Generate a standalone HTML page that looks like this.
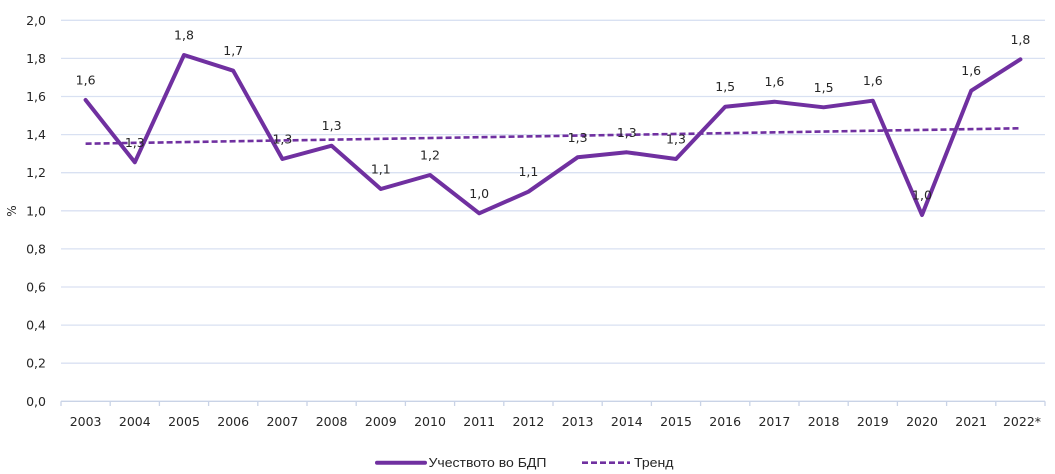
<!DOCTYPE html>
<html><head><meta charset="utf-8"><style>
html,body{margin:0;padding:0;background:#fff;}
svg{display:block;}
text{font-family:"DejaVu Sans","Liberation Sans",sans-serif;fill:#262626;}
</style></head><body>
<svg width="1055" height="474" viewBox="0 0 1055 474" xmlns="http://www.w3.org/2000/svg">
<g stroke="#D9E1F2" stroke-width="1.3">
<line x1="61" y1="20.3" x2="1045" y2="20.3"/>
<line x1="61" y1="58.4" x2="1045" y2="58.4"/>
<line x1="61" y1="96.5" x2="1045" y2="96.5"/>
<line x1="61" y1="134.6" x2="1045" y2="134.6"/>
<line x1="61" y1="172.7" x2="1045" y2="172.7"/>
<line x1="61" y1="210.8" x2="1045" y2="210.8"/>
<line x1="61" y1="248.9" x2="1045" y2="248.9"/>
<line x1="61" y1="287" x2="1045" y2="287"/>
<line x1="61" y1="325.1" x2="1045" y2="325.1"/>
<line x1="61" y1="363.2" x2="1045" y2="363.2"/>
</g>
<g stroke="#C9D3E6" stroke-width="1.3">
<line x1="61" y1="401.3" x2="1045" y2="401.3"/>
<line x1="61" y1="401.3" x2="61" y2="406"/>
<line x1="110.2" y1="401.3" x2="110.2" y2="406"/>
<line x1="159.4" y1="401.3" x2="159.4" y2="406"/>
<line x1="208.6" y1="401.3" x2="208.6" y2="406"/>
<line x1="257.8" y1="401.3" x2="257.8" y2="406"/>
<line x1="307" y1="401.3" x2="307" y2="406"/>
<line x1="356.2" y1="401.3" x2="356.2" y2="406"/>
<line x1="405.4" y1="401.3" x2="405.4" y2="406"/>
<line x1="454.6" y1="401.3" x2="454.6" y2="406"/>
<line x1="503.8" y1="401.3" x2="503.8" y2="406"/>
<line x1="553" y1="401.3" x2="553" y2="406"/>
<line x1="602.2" y1="401.3" x2="602.2" y2="406"/>
<line x1="651.4" y1="401.3" x2="651.4" y2="406"/>
<line x1="700.6" y1="401.3" x2="700.6" y2="406"/>
<line x1="749.8" y1="401.3" x2="749.8" y2="406"/>
<line x1="799" y1="401.3" x2="799" y2="406"/>
<line x1="848.2" y1="401.3" x2="848.2" y2="406"/>
<line x1="897.4" y1="401.3" x2="897.4" y2="406"/>
<line x1="946.6" y1="401.3" x2="946.6" y2="406"/>
<line x1="995.8" y1="401.3" x2="995.8" y2="406"/>
<line x1="1045" y1="401.3" x2="1045" y2="406"/>
</g>
<g font-size="12.5" text-anchor="end">
<text x="46" y="24.8">2,0</text>
<text x="46" y="62.9">1,8</text>
<text x="46" y="101">1,6</text>
<text x="46" y="139.1">1,4</text>
<text x="46" y="177.2">1,2</text>
<text x="46" y="215.3">1,0</text>
<text x="46" y="253.4">0,8</text>
<text x="46" y="291.5">0,6</text>
<text x="46" y="329.6">0,4</text>
<text x="46" y="367.7">0,2</text>
<text x="46" y="405.8">0,0</text>
</g>
<text x="0" y="0" font-size="12" text-anchor="middle" transform="translate(16,211) rotate(-90)">%</text>
<g font-size="12.5" text-anchor="middle">
<text x="85.6" y="426">2003</text>
<text x="134.8" y="426">2004</text>
<text x="184" y="426">2005</text>
<text x="233.2" y="426">2006</text>
<text x="282.4" y="426">2007</text>
<text x="331.6" y="426">2008</text>
<text x="380.8" y="426">2009</text>
<text x="430" y="426">2010</text>
<text x="479.2" y="426">2011</text>
<text x="528.4" y="426">2012</text>
<text x="577.6" y="426">2013</text>
<text x="626.8" y="426">2014</text>
<text x="676" y="426">2015</text>
<text x="725.2" y="426">2016</text>
<text x="774.4" y="426">2017</text>
<text x="823.6" y="426">2018</text>
<text x="872.8" y="426">2019</text>
<text x="922" y="426">2020</text>
<text x="971.2" y="426">2021</text>
<text x="1022" y="426">2022*</text>
</g>
<line x1="85.6" y1="143.7" x2="1020.4" y2="128.3" stroke="#7030A0" stroke-width="2.6" stroke-dasharray="6,3"/>
<polyline fill="none" stroke="#7030A0" stroke-width="4" stroke-linejoin="round" stroke-linecap="round"
points="85.6,100 134.8,162.3 184,55 233.2,70.7 282.4,159 331.6,145.7 380.8,189 430,175 479.2,213.3 528.4,191.7 577.6,157.3 626.8,152.3 676,159 725.2,106.7 774.4,101.7 823.6,107.3 872.8,100.7 922,215 971.2,90.7 1020.4,59.3"/>
<g font-size="12.5" text-anchor="middle">
<text x="85.6" y="84.5">1,6</text>
<text x="134.8" y="146.8">1,3</text>
<text x="184" y="39.5">1,8</text>
<text x="233.2" y="55.2">1,7</text>
<text x="282.4" y="143.5">1,3</text>
<text x="331.6" y="130.2">1,3</text>
<text x="380.8" y="173.5">1,1</text>
<text x="430" y="159.5">1,2</text>
<text x="479.2" y="197.8">1,0</text>
<text x="528.4" y="176.2">1,1</text>
<text x="577.6" y="141.8">1,3</text>
<text x="626.8" y="136.8">1,3</text>
<text x="676" y="143.5">1,3</text>
<text x="725.2" y="91.2">1,5</text>
<text x="774.4" y="86.2">1,6</text>
<text x="823.6" y="91.8">1,5</text>
<text x="872.8" y="85.2">1,6</text>
<text x="922" y="199.5">1,0</text>
<text x="971.2" y="75.2">1,6</text>
<text x="1020.4" y="43.8">1,8</text>
</g>
<line x1="377" y1="462.7" x2="425" y2="462.7" stroke="#7030A0" stroke-width="4" stroke-linecap="round"/>
<text x="428.5" y="467.2" font-size="12.5" style="font-family:'Liberation Sans',sans-serif" textLength="118" lengthAdjust="spacingAndGlyphs">Учеството во БДП</text>
<line x1="582" y1="462.7" x2="630" y2="462.7" stroke="#7030A0" stroke-width="2.6" stroke-dasharray="6,3"/>
<text x="634" y="467.2" font-size="12.5" style="font-family:'Liberation Sans',sans-serif" textLength="39.5" lengthAdjust="spacingAndGlyphs">Тренд</text>
</svg>
</body></html>
